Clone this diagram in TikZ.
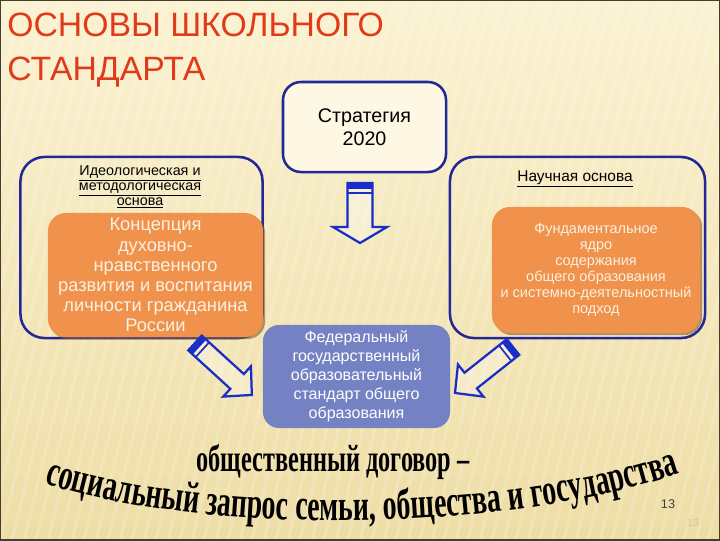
\documentclass[tikz,border=0pt]{standalone}
\usepackage{fontspec}
\setmainfont{Liberation Sans}
\newfontfamily\arcfont[FakeStretch=0.64]{Liberation Serif}
\usetikzlibrary{decorations.text, shadows}
\definecolor{paper}{RGB}{251,242,210}
\definecolor{paperdark}{RGB}{238,221,165}
\definecolor{titlered}{RGB}{224,58,24}
\definecolor{frameblue}{RGB}{35,40,150}
\definecolor{arrowblue}{RGB}{25,45,200}
\definecolor{coreorange}{RGB}{240,146,76}
\definecolor{fgosblue}{RGB}{116,130,196}
\definecolor{coretext}{RGB}{250,241,226}
\tikzset{frame/.style={draw=frameblue, line width=1.8pt, rounded corners=0.6cm},
         core/.style={fill=coreorange, rounded corners=0.45cm, text=coretext, align=center,
                      drop shadow={shadow xshift=1.5pt, shadow yshift=-1.5pt, fill=brown!70!black, opacity=0.6}},
         caption/.style={align=center, text=black},
         arrowline/.style={draw=arrowblue, line width=1.6pt, fill=white, fill opacity=0.3},
        }
\newcommand\blockarrow[6]{%
  \begin{scope}[shift={#1}, rotate=#2]
    \draw[arrowline] (0,-#4) -- ({#3-#6},-#4) -- ({#3-#6},-#5) -- (#3,0) -- ({#3-#6},#5) -- ({#3-#6},#4) -- (0,#4) -- cycle;
    \fill[arrowblue] (0,-#4) rectangle (6,#4);
    \draw[arrowblue, line width=1.2pt] (10,-#4) -- (10,#4);
  \end{scope}}

\begin{document}
\begin{tikzpicture}[x=0.025cm, y=-0.025cm]
        \useasboundingbox (0,0) rectangle (720,540);
        % фон
        \shade[top color=paper, bottom color=paperdark] (0,0) rectangle (720,540);
        \begin{scope}
            \clip (0,0) rectangle (720,540);
            \foreach \s in {-120,-108,...,720}
                \draw[white, opacity=0.18, line width=2.5pt] (\s,540) -- (\s+130,0);
        \end{scope}
        \draw[black!70!olive, line width=1.5pt] (0,0) rectangle (720,540);

        \node[anchor=north west, inner sep=0pt, align=left, text=titlered, font=\fontsize{24}{31.3}\selectfont](title)at(7,13){ОСНОВЫ ШКОЛЬНОГО\\СТАНДАРТА};

        \node[draw=frameblue, line width=1.8pt, rounded corners=0.45cm, fill=paper!60!white, minimum width=4.075cm, minimum height=2.25cm, align=center, font=\fontsize{14}{16.4}\selectfont](strat)at(364.5,127){Стратегия\\2020};

        \node[frame, minimum width=6.05cm, minimum height=4.525cm](ideo)at(141.5,247.5){};
        \node[frame, minimum width=6.375cm, minimum height=4.525cm](sci)at(577.5,247.5){};

        \node[caption, font=\fontsize{10.2}{10.7}\selectfont](ideolabel)at(140,187){\underline{Идеологическая и}\\\underline{методологическая}\\\underline{основа}};
        \node[caption, font=\fontsize{11}{13}\selectfont](scilabel)at(575,179){\underline{Научная основа}};

        \node[core, minimum width=5.375cm, minimum height=3.1cm, font=\fontsize{13}{14.3}\selectfont](concept)at(155.5,275){Концепция\\духовно-\\нравственного\\развития и воспитания\\личности гражданина\\России};
        \node[core, minimum width=5.2cm, minimum height=3.15cm, font=\fontsize{10.3}{11.4}\selectfont](fundcore)at(596,270){Фундаментальное\\ядро\\содержания\\общего образования\\и системно-деятельностный\\подход};

        \node[fill=fgosblue, rounded corners=0.4cm, text=white, align=center, minimum width=4.675cm, minimum height=2.575cm, font=\fontsize{11.4}{13.5}\selectfont](fgos)at(356.5,376.5){Федеральный\\государственный\\образовательный\\стандарт общего\\образования};

        % стрелки
        \blockarrow{(360,183)}{-90}{60}{12.5}{27}{16}
        \blockarrow{(195,343)}{-42.4}{77}{10}{20.5}{20}
        \blockarrow{(513,347)}{-141.6}{74}{10}{20.5}{20}

        \node[anchor=base, font=\arcfont\bfseries\fontsize{27}{29}\selectfont](contract)at(333,471){общественный договор –};
        \path[decorate, decoration={text along path, text align=center,
              text={|\arcfont\bfseries\fontsize{31}{33}\selectfont|социальный запрос семьи, общества и государства}}]
              (40,482) .. controls (200,535) and (500,535) .. (684,472);

        \node[anchor=base, font=\fontsize{9}{10}\selectfont, text=black!75](pagenum)at(668,508){13};
        \node[anchor=base, font=\fontsize{7.5}{9}\selectfont, text=paperdark!70!brown](pagefaint)at(693,526){13};
\end{tikzpicture}
\end{document}
